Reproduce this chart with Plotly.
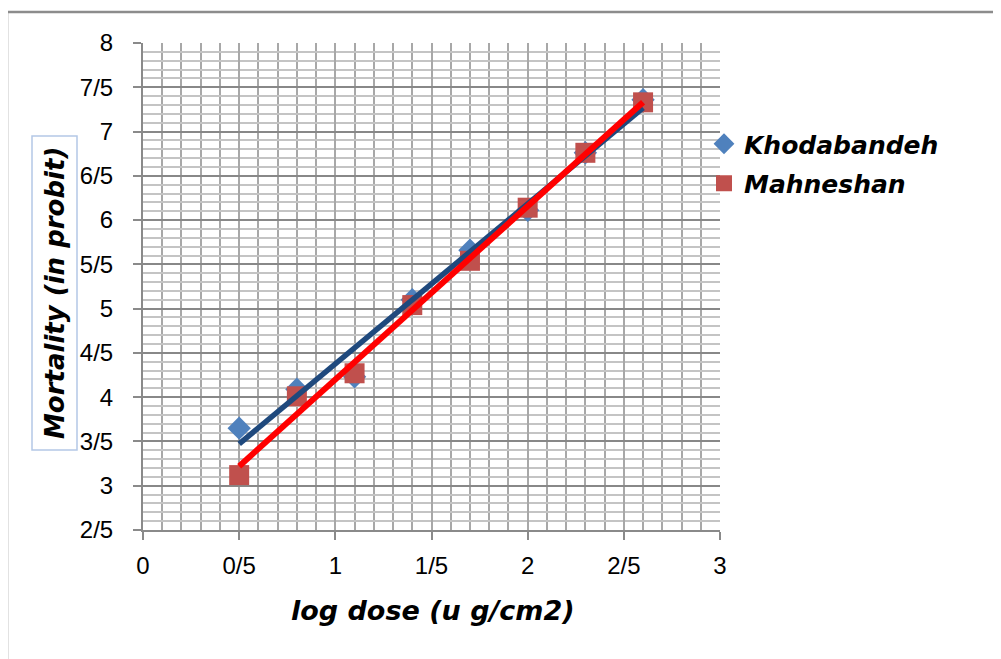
import numpy as np
import plotly.graph_objects as go

# ---- data ----
log_dose = [0.5, 0.8, 1.1, 1.4, 1.7, 2.0, 2.3, 2.6]
khodabandeh = [3.65, 4.09, 4.23, 5.10, 5.66, 6.11, 6.76, 7.36]
mahneshan = [3.12, 4.01, 4.27, 5.04, 5.54, 6.14, 6.76, 7.33]

x_tick_vals = [0, 0.5, 1, 1.5, 2, 2.5, 3]
x_tick_labels = ["0", "0/5", "1", "1/5", "2", "2/5", "3"]
y_tick_vals = [2.5, 3, 3.5, 4, 4.5, 5, 5.5, 6, 6.5, 7, 7.5, 8]
y_tick_labels = ["2/5", "3", "3/5", "4", "4/5", "5", "5/5", "6", "6/5", "7", "7/5", "8"]

series_names = ["Khodabandeh", "Mahneshan"]

# linear trendlines (least squares fit of each series)
kx = np.array(log_dose)
k_fit = np.polyfit(kx, np.array(khodabandeh), 1)
m_fit = np.polyfit(kx, np.array(mahneshan), 1)
trend_x = [min(log_dose), max(log_dose)]

BOLD_FONT = "DejaVu Sans"
TICK_FONT = "Liberation Sans, Arial, sans-serif"

fig = go.Figure()

fig.add_trace(go.Scatter(
    x=log_dose, y=khodabandeh, mode="markers", name=series_names[0],
    legendgroup="a",
    marker=dict(symbol="diamond", size=18, color="#4F81BD",
                line=dict(width=0)),
))
fig.add_trace(go.Scatter(
    x=log_dose, y=mahneshan, mode="markers", name=series_names[1],
    legendgroup="b",
    marker=dict(symbol="square", size=20, color="#C0504D",
                line=dict(width=0)),
))
fig.add_trace(go.Scatter(
    x=trend_x, y=list(np.polyval(k_fit, trend_x)), mode="lines",
    line=dict(color="#1F497D", width=5.5), showlegend=False, hoverinfo="skip",
))
fig.add_trace(go.Scatter(
    x=trend_x, y=list(np.polyval(m_fit, trend_x)), mode="lines",
    line=dict(color="#FF0000", width=6), showlegend=False, hoverinfo="skip",
))

# target screen positions of the plot area (page body adds an 8px offset)
OFF = 8
L, R, T, B = 143, 720, 43, 530
W, H = 1001, 659
pw, ph = R - L, B - T

def px(xp):
    return (xp - L) / pw

def py(yp):
    return (B - yp) / ph

fig.update_layout(
    width=W, height=H,
    margin=dict(l=L - OFF, r=W - (R - OFF), t=T - OFF, b=H - (B - OFF), pad=0),
    paper_bgcolor="white", plot_bgcolor="white",
    showlegend=True,
    legend=dict(
        x=px(704), y=py(121), xanchor="left", yanchor="top",
        bgcolor="rgba(0,0,0,0)", traceorder="grouped", tracegroupgap=4,
        font=dict(family=BOLD_FONT, size=25, color="black", style="italic", weight="bold"),
        itemsizing="trace",
    ),
    xaxis=dict(
        range=[0, 3], tickvals=x_tick_vals, ticktext=x_tick_labels,
        showgrid=True, gridcolor="#a8a8a8", gridwidth=2,
        minor=dict(dtick=0.1, showgrid=True, gridcolor="#a8a8a8", gridwidth=2),
        showline=True, linecolor="#8a8a8a", linewidth=2,
        ticks="outside", ticklen=8, tickcolor="#8a8a8a", tickwidth=2,
        tickfont=dict(family=TICK_FONT, size=24, color="black"),
        ticklabelstandoff=5,
        zeroline=False, fixedrange=True,
    ),
    yaxis=dict(
        range=[2.5, 8], tickvals=y_tick_vals, ticktext=y_tick_labels,
        showgrid=True, gridcolor="#888888", gridwidth=2,
        minor=dict(dtick=0.1, showgrid=True, gridcolor="#c4c4c4", gridwidth=2),
        showline=True, linecolor="#8a8a8a", linewidth=2,
        ticks="outside", ticklen=8, tickcolor="#8a8a8a", tickwidth=2,
        tickfont=dict(family=TICK_FONT, size=24, color="black"),
        ticklabelstandoff=15,
        zeroline=False, fixedrange=True,
    ),
    shapes=[
        # outer chart frame (left and top edges visible)
        dict(type="rect", xref="paper", yref="paper",
             x0=px(7), x1=px(1100), y0=py(760), y1=py(12),
             line=dict(color="#8c8c8c", width=2.5), layer="below"),
        # box around the y-axis title
        dict(type="rect", xref="paper", yref="paper",
             x0=px(32), x1=px(77), y0=py(450), y1=py(136),
             line=dict(color="#b4c8e6", width=1.5)),
    ],
    annotations=[
        dict(text="Mortality (in probit)", xref="paper", yref="paper",
             x=px(55), y=py(293), textangle=-90, showarrow=False,
             xanchor="center", yanchor="middle",
             font=dict(family=BOLD_FONT, size=26, color="black", style="italic", weight="bold")),
        dict(text="log dose (u g/cm2)", xref="paper", yref="paper",
             x=px(433), y=py(610), showarrow=False,
             xanchor="center", yanchor="middle",
             font=dict(family=BOLD_FONT, size=27, color="black", style="italic", weight="bold")),
    ],
)

fig.write_html("out.html")
